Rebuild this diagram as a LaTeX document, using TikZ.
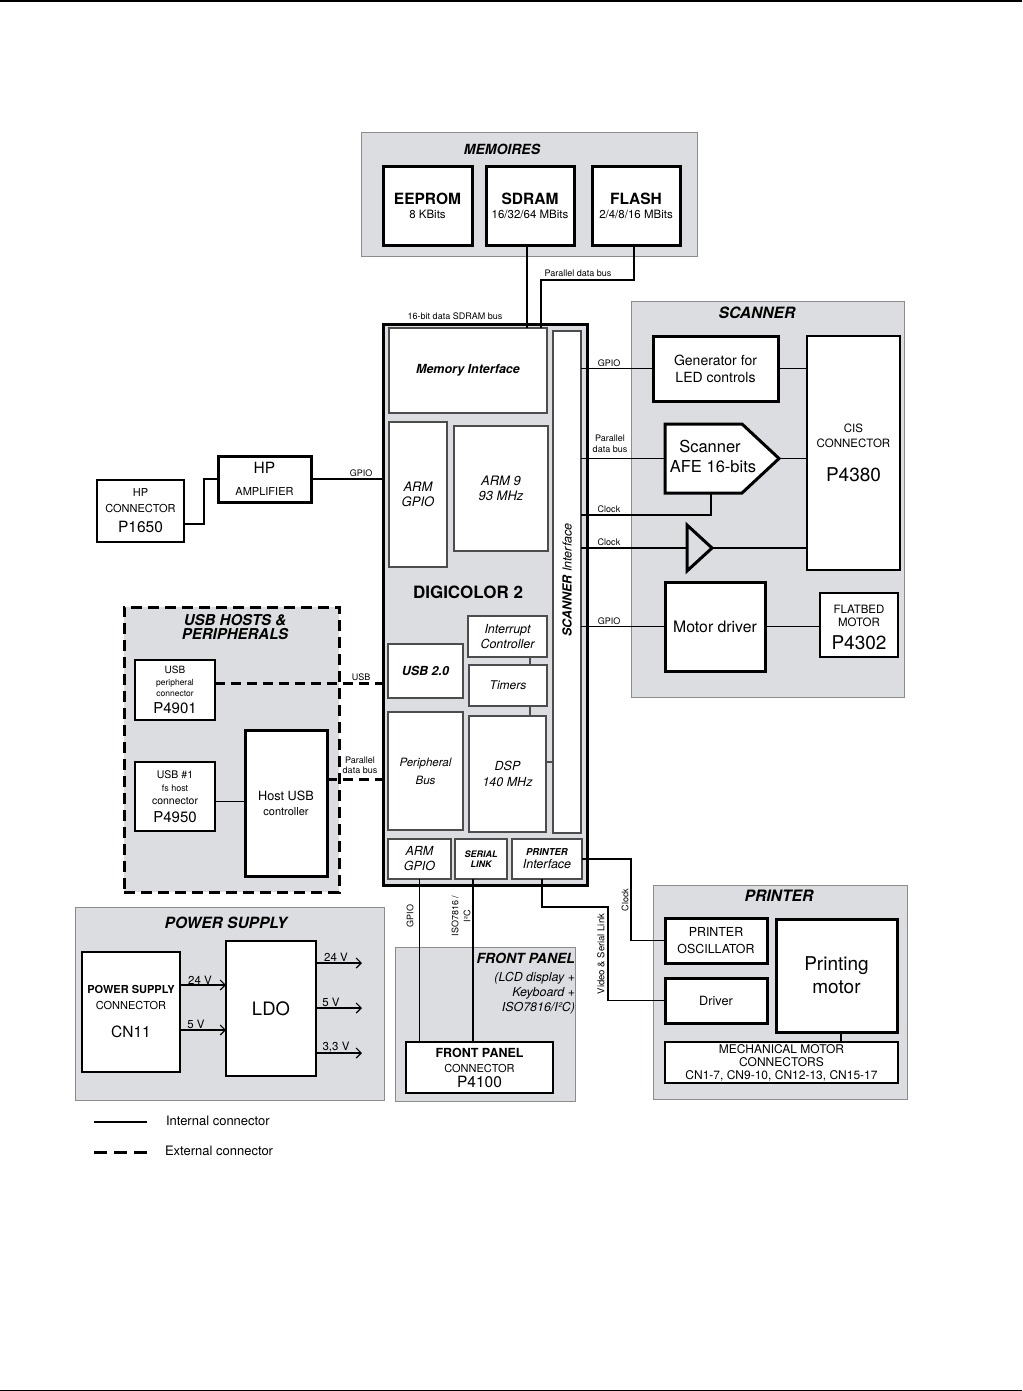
\documentclass[tikz,border=0pt]{standalone}
\usepackage{fontspec}
\setmainfont{TeX Gyre Heros}
\usetikzlibrary{arrows.meta}
\definecolor{panelgray}{RGB}{220,221,224}
\definecolor{panelline}{RGB}{140,140,140}
\newcommand\fz[1]{\fontsize{#1}{#1}\selectfont}
\newcommand\fzb[2]{\fontsize{#1}{#2}\selectfont}
\begin{document}
\begin{tikzpicture}[x=1pt,y=-1pt,
 every node/.style={inner sep=0pt, outer sep=0pt, align=center, font=\fz{11}},
 panel/.style={draw=panelline, fill=panelgray, line width=1pt, rectangle},
 thickbox/.style={draw=black, fill=white, line width=3pt},
 thinbox/.style={draw=black, fill=white, line width=1.2pt},
 inbox/.style={draw=black!70, fill=white, line width=1.2pt},
 conn/.style={line width=1.3pt},
 ext/.style={line width=3pt, dash pattern=on 10pt off 6pt},
 lbl/.style={font=\fz{9}},
 pwr/.style={conn, -{Straight Barb[length=5pt,width=10pt,line width=1.2pt]}},
]
\useasboundingbox (0,0) rectangle (1022,1391);
\fill (0,0) rectangle (1022,2.5);
\fill (0,1389.5) rectangle (1022,1391);

% ---------- panels
\node[panel, minimum width=336, minimum height=123] (memp) at (529,194.5) {};
\node[panel, minimum width=273, minimum height=396] (scanp) at (767.5,499) {};
\node[draw=black, fill=panelgray, line width=3pt, dash pattern=on 11pt off 6pt, minimum width=215, minimum height=285] (usbp) at (231.5,749.5) {};
\node[panel, minimum width=309, minimum height=193] (pwrp) at (229.5,1003.5) {};
\node[panel, minimum width=180, minimum height=154] (frontp) at (485,1024) {};
\node[panel, minimum width=254, minimum height=214] (prnp) at (780,992) {};

% ---------- memories
\node[font=\fz{14}\bfseries\itshape] (memt) at (502,149) {MEMOIRES};
\node[thickbox, minimum width=89, minimum height=78, font=\fzb{11.5}{14}] (eeprom) at (427.5,206) {{\fz{15.5}\bfseries EEPROM}\\{\fz{11.5}8 KBits}};
\node[thickbox, minimum width=88, minimum height=78, font=\fzb{11.5}{14}] (sdram) at (530,206) {{\fz{15.5}\bfseries SDRAM}\\{\fz{11.5}16/32/64 MBits}};
\node[thickbox, minimum width=88, minimum height=78, font=\fzb{11.5}{14}] (flash) at (636,206) {{\fz{15.5}\bfseries FLASH}\\{\fz{11.5}2/4/8/16 MBits}};

% ---------- digicolor
\node[draw=black, fill=panelgray, line width=3pt, minimum width=204, minimum height=561] (digi) at (485,604.5) {};
\node[inbox, minimum width=158, minimum height=85, font=\fz{12.5}\bfseries\itshape] (memif) at (468,370.5) {Memory Interface};
\node[inbox, minimum width=28, minimum height=502] (scanif) at (567,582) {};
\node[rotate=90, font=\fz{12.5}\itshape] (scanift) at (567,580) {\bfseries SCANNER \mdseries Interface};
\node[inbox, minimum width=58, minimum height=145, font=\fzb{13}{15}\itshape] (armgpio1) at (418,494.5) {ARM\\GPIO};
\node[inbox, minimum width=94, minimum height=125, font=\fzb{13}{15}\itshape] (arm9) at (501,488.5) {ARM 9\\93 MHz};
\node[font=\fz{17}\bfseries] (digit) at (468,592) {DIGICOLOR 2};
\node[inbox, minimum width=79, minimum height=41, font=\fzb{12.5}{15}\itshape] (irq) at (507.5,636.5) {Interrupt\\Controller};
\node[inbox, minimum width=75, minimum height=54, font=\fz{12.5}\bfseries\itshape] (usb20) at (425.5,671) {USB 2.0};
\node[inbox, minimum width=78, minimum height=41, font=\fz{12}\itshape] (timers) at (508,685.5) {Timers};
\node[inbox, minimum width=75, minimum height=118, font=\fzb{11.5}{18}\itshape] (pbus) at (425.5,771) {Peripheral\\Bus};
\node[inbox, minimum width=77, minimum height=116, font=\fzb{12.5}{16}\itshape] (dsp) at (507.5,774) {DSP\\140 MHz};
\node[inbox, minimum width=63, minimum height=40, font=\fzb{12.5}{15}\itshape] (armgpio2) at (419.5,859) {ARM\\GPIO};
\node[inbox, minimum width=52, minimum height=40, font=\fzb{9}{10}\bfseries\itshape] (serial) at (481,859) {SERIAL\\LINK};
\node[inbox, minimum width=70, minimum height=40, font=\fzb{12.5}{13}\itshape] (prnif) at (547,859) {{\fz{9.5}\bfseries PRINTER}\\Interface};

% ---------- scanner
\node[font=\fz{15.6}\bfseries\itshape] (scant) at (757,313) {SCANNER};
\node[thickbox, minimum width=125, minimum height=65, font=\fzb{14}{17}] (ledgen) at (715.5,368.5) {Generator for\\LED controls};
\node[thinbox, minimum width=93, minimum height=234, font=\fzb{11.5}{15}] (cis) at (853.5,453) {CIS\\CONNECTOR\\[19pt]{\fz{19}P4380}};
\node[minimum width=96, minimum height=69, font=\fzb{16.5}{20}] (afe) at (713,458.5) {};
\draw[line width=3pt, fill=white, line join=miter] (afe.north west) -- ([xshift=-19pt]afe.north east) -- ([xshift=18pt]afe.east) -- ([xshift=-19pt]afe.south east) -- (afe.south west) -- cycle;
\node[font=\fzb{16.5}{20}] (afet) at (713,456) {\hspace*{-6pt}Scanner\\AFE 16-bits};
\coordinate (afetip) at ([xshift=18pt]afe.east);
\node[minimum width=25, minimum height=46] (clkbuf) at (699.5,548) {};
\draw[line width=3pt, line join=miter] (clkbuf.north west) -- (clkbuf.east) -- (clkbuf.south west) -- cycle;
\node[thickbox, minimum width=100, minimum height=89, font=\fz{15.8}] (motdrv) at (715,626.5) {Motor driver};
\node[thinbox, minimum width=78, minimum height=64, font=\fzb{11.5}{13}] (flatbed) at (859,625) {\rule{0pt}{14pt}FLATBED\\MOTOR\\[8pt]{\fz{19}P4302}};

% ---------- HP
\node[thickbox, minimum width=93, minimum height=46, font=\fzb{11}{22}] (hpamp) at (264.5,479) {{\fz{15.5}HP}\\AMPLIFIER};
\node[thinbox, minimum width=87, minimum height=62, font=\fzb{11}{16}] (hpconn) at (140.5,511) {HP\\CONNECTOR\\[4pt]{\fz{15.5}P1650}};

% ---------- USB
\node[font=\fzb{15}{14}\bfseries\itshape] (usbt) at (235,627) {USB HOSTS \&\\PERIPHERALS};
\node[thinbox, minimum width=80, minimum height=60, font=\fzb{8.5}{11.5}] (usbper) at (175,690) {{\fz{10}USB}\\peripheral\\connector\\[5pt]{\fz{15}P4901}};
\node[thinbox, minimum width=80, minimum height=69, font=\fzb{9}{13}] (usbhost) at (175,796.5) {{\fz{10.5}USB \#1}\\fs host\\{\fz{10.5}connector}\\[5pt]{\fz{15}P4950}};
\node[thickbox, minimum width=82, minimum height=146, font=\fzb{11}{15}] (hostusb) at (286,803) {{\fz{12.7}Host USB}\\controller};

% ---------- power supply
\node[font=\fz{15.5}\bfseries\itshape] (pwrt) at (226,923) {POWER SUPPLY};
\node[thinbox, minimum width=98, minimum height=120, font=\fzb{11}{16}] (psuconn) at (131,1012) {{\bfseries POWER SUPPLY}\\CONNECTOR\\[12pt]{\fz{15.5}CN11}};
\node[thinbox, minimum width=90, minimum height=135, font=\fz{18.5}] (ldo) at (271,1008.5) {LDO};
\coordinate (o24) at (362,963);
\coordinate (o5) at (362,1008);
\coordinate (o33) at (362,1053);

% ---------- front panel
\node[anchor=north east, align=right, font=\fzb{12.4}{15}\itshape] (fpt) at (575,953) {{\fz{14}\bfseries FRONT PANEL}\\[3pt](LCD display +\\Keyboard +\\ISO7816/I²C)};
\node[thinbox, minimum width=147, minimum height=51, font=\fzb{11}{15}] (fpconn) at (479.5,1067.5) {{\fz{12.5}\bfseries FRONT PANEL}\\CONNECTOR\\{\fz{15.5}P4100}};

% ---------- printer
\node[font=\fz{15.7}\bfseries\itshape] (prnt) at (779,896) {PRINTER};
\node[thickbox, minimum width=102, minimum height=45, font=\fzb{12.4}{17}] (posc) at (716,940.5) {PRINTER\\OSCILLATOR};
\node[thickbox, minimum width=102, minimum height=45, font=\fz{12.7}] (pdrv) at (716,1000.5) {Driver};
\node[thickbox, minimum width=121, minimum height=113, font=\fzb{19}{23}] (pmotor) at (836.5,975.5) {Printing\\motor};
\node[thinbox, minimum width=233, minimum height=41, font=\fzb{12}{13}] (mech) at (781.5,1062.5) {MECHANICAL MOTOR\\CONNECTORS\\CN1-7, CN9-10, CN12-13, CN15-17};

% ---------- connectors: memories
\draw[conn] ([xshift=-3pt]sdram.south) -- ([xshift=-3pt]sdram.south |- memif.north);
\coordinate (pbend) at (541,280);
\draw[conn] ([xshift=-2pt]flash.south) |- (pbend) -- (pbend |- memif.north);
\node[lbl] (lpdb) at (578,273) {Parallel data bus};
\node[lbl] (lsd) at (455,316) {16-bit data SDRAM bus};

% HP
\draw[conn] ([yshift=-13pt]hpconn.east) -- ++(20,0) |- (hpamp.west);
\draw[conn] (hpamp.east) -- (hpamp.east -| digi.west);
\node[lbl] (lhp) at (361,473) {GPIO};

% scanner
\draw[conn] (ledgen.west -| scanif.east) -- (ledgen.west);
\draw[conn] (ledgen.east) -- (ledgen.east -| cis.west);
\draw[conn] (afe.west -| scanif.east) -- (afe.west);
\draw[conn] (afetip) -- (afetip -| cis.west);
\coordinate (clkA) at (600,515);
\draw[conn] ([xshift=-2pt]afe.south) |- (clkA -| scanif.east);
\draw[conn] (clkbuf.west -| scanif.east) -- (clkbuf.west);
\draw[conn] (clkbuf.east) -- (clkbuf.east -| cis.west);
\draw[conn] (motdrv.west -| scanif.east) -- (motdrv.west);
\draw[conn] (motdrv.east) -- (motdrv.east -| flatbed.west);
\node[lbl] (ls1) at (609,363) {GPIO};
\node[lbl, font=\fzb{9}{11}] (ls2) at (610,444) {Parallel\\data bus};
\node[lbl] (ls3) at (609,509) {Clock};
\node[lbl] (ls4) at (609,542) {Clock};
\node[lbl] (ls5) at (609,621) {GPIO};

% digicolor internal
\draw[conn, draw=black!70] ([xshift=22.5pt]irq.south) -- ([xshift=22.5pt]irq.south |- timers.north);
\draw[conn, draw=black!70] ([xshift=22pt]timers.south) -- ([xshift=22pt]timers.south |- dsp.north);
\draw[conn, draw=black!70] ([yshift=12pt]dsp.east) -- ([yshift=12pt]dsp.east -| scanif.west);

% USB
\draw[ext] ([yshift=7pt]usbper.east) -- ([yshift=7pt]usbper.east -| usb20.west);
\draw[conn] ([yshift=-5pt]usbhost.east) -- ([yshift=-5pt]usbhost.east -| hostusb.west);
\draw[ext] ([yshift=24pt]hostusb.east) -- ([yshift=24pt]hostusb.east -| pbus.west);
\node[lbl] (lusb) at (361,677) {USB};
\node[lbl, font=\fzb{9}{10}] (lpar) at (360,765) {Parallel\\data bus};

% bottom
\draw[conn] (armgpio2.south) -- (armgpio2.south |- fpconn.north);
\draw[conn] ([xshift=-8pt]serial.south) -- ([xshift=-8pt]serial.south |- fpconn.north);
\coordinate (vsbend) at (608,907);
\draw[conn] ([xshift=-5pt]prnif.south) |- (vsbend) |- (pdrv.west);
\coordinate (ckbend) at (631,858);
\draw[conn] (prnif.east) -- (prnif.east -| ckbend) |- (posc.west);
\draw[conn] ([xshift=4.5pt]pmotor.south) -- ([xshift=4.5pt]pmotor.south |- mech.north);
\node[lbl, rotate=90] (lgp) at (410,916) {GPIO};
\node[lbl, rotate=90, font=\fzb{9}{12}] (liso) at (461,916) {ISO7816 /\\I²C};
\node[lbl, rotate=90, font=\fz{9.5}] (lvs) at (601,954) {Video \& Serial Link};
\node[lbl, rotate=90] (lclk) at (625,900) {Clock};

% power
\draw[pwr] ([yshift=27pt]psuconn.east) -- ([yshift=27pt]psuconn.east -| ldo.west);
\draw[pwr] ([yshift=-18pt]psuconn.east) -- ([yshift=-18pt]psuconn.east -| ldo.west);
\draw[pwr] (o24 -| ldo.east) -- (o24);
\draw[pwr] (o5 -| ldo.east) -- (o5);
\draw[pwr] (o33 -| ldo.east) -- (o33);
\node[font=\fz{11.5}] (lv1) at (200,980) {24 V};
\node[font=\fz{11.5}] (lv2) at (196,1024) {5 V};
\node[font=\fz{11.5}] (lv3) at (336,957) {24 V};
\node[font=\fz{11.5}] (lv4) at (331,1002) {5 V};
\node[font=\fz{11.5}] (lv5) at (336,1047) {3,3 V};

% legend
\coordinate (lg1a) at (94,1122);
\coordinate (lg1b) at (147,1122);
\coordinate (lg2a) at (94,1152);
\coordinate (lg2b) at (147,1152);
\draw[conn] (lg1a) -- (lg1b);
\draw[line width=3pt, dash pattern=on 13pt off 7pt] (lg2a) -- (lg2b);
\node[anchor=west, font=\fz{13}] (lgt1) at (166,1121) {Internal connector};
\node[anchor=west, font=\fz{13}] (lgt2) at (165,1151) {External connector};
\end{tikzpicture}
\end{document}
